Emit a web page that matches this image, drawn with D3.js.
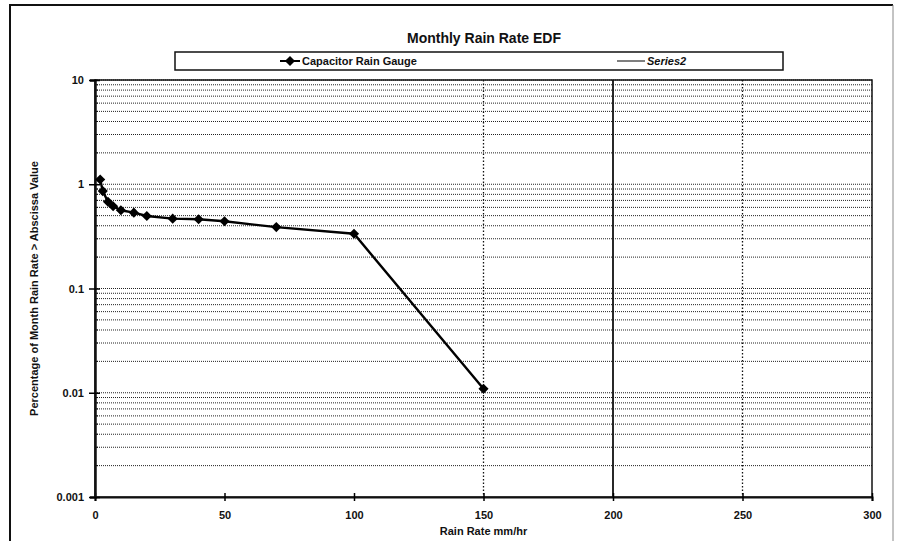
<!DOCTYPE html>
<html lang="en">
<head>
    <meta charset="UTF-8">
    <title>Monthly Rain Rate EDF</title>
    <script src="https://cdnjs.cloudflare.com/ajax/libs/d3/7.8.5/d3.min.js"></script>
    <style>
        body {
            margin: 0;
            background-color: white;
        }
        svg text {
            font-family: "Liberation Sans", Arial, sans-serif;
            font-weight: bold;
            fill: #111;
        }
    </style>
</head>
<body>
    <svg id="chart" width="897" height="541"></svg>

    <script>
        // Data
        const rainRate = [2, 3, 5, 7, 10, 15, 20, 30, 40, 50, 70, 100, 150];
        const percentExceeded = [1.11, 0.86, 0.68, 0.615, 0.563, 0.534, 0.496, 0.468, 0.461, 0.441, 0.388, 0.335, 0.0109];
        const xTicks = [0, 50, 100, 150, 200, 250, 300];
        const yTicks = [10, 1, 0.1, 0.01, 0.001];
        const yTickLabels = ["10", "1", "0.1", "0.01", "0.001"];
        const xGridDotted = [150, 250];
        const xGridSolid = [200];
        const seriesNames = ["Capacitor Rain Gauge", "Series2"];

        const width = 897;
        const height = 541;
        const margin = { top: 80, right: 25, bottom: 44, left: 95 };
        const plotWidth = width - margin.left - margin.right;
        const plotHeight = height - margin.top - margin.bottom;

        const svg = d3.select("#chart");

        // Outer chart frame (runs off the bottom of the scan)
        svg.append("path")
            .attr("d", `M10,${height + 2} L10,5 L893,5`)
            .attr("fill", "none")
            .attr("stroke", "#111")
            .attr("stroke-width", 2);
        svg.append("line")
            .attr("x1", 893).attr("x2", 893)
            .attr("y1", 5).attr("y2", height)
            .attr("stroke", "#888")
            .attr("stroke-width", 1);

        const g = svg.append("g")
            .attr("transform", `translate(${margin.left},${margin.top})`);

        const x = d3.scaleLinear().domain([0, 300]).range([0, plotWidth]);
        const y = d3.scaleLog().domain([0.001, 10]).range([plotHeight, 0]);

        // Minor + major horizontal gridlines, dotted
        const yGrid = [];
        for (let d = 0.001; d < 10; d *= 10) {
            for (let m = 1; m <= 9; m++) {
                const v = +(d * m).toPrecision(3);
                if (v > 0.001) yGrid.push(v);
            }
        }
        yGrid.push(10);

        g.selectAll("line.hgrid")
            .data(yGrid)
            .enter()
            .append("line")
            .attr("class", "hgrid")
            .attr("x1", 0)
            .attr("x2", plotWidth)
            .attr("y1", d => y(d))
            .attr("y2", d => y(d))
            .attr("stroke", "#222")
            .attr("stroke-width", 1)
            .attr("stroke-dasharray", "1,1");

        g.selectAll("line.vgrid-dot")
            .data(xGridDotted)
            .enter()
            .append("line")
            .attr("class", "vgrid-dot")
            .attr("x1", d => x(d))
            .attr("x2", d => x(d))
            .attr("y1", 0)
            .attr("y2", plotHeight)
            .attr("stroke", "#111")
            .attr("stroke-width", 1.3)
            .attr("stroke-dasharray", "1.5,2");

        g.selectAll("line.vgrid-solid")
            .data(xGridSolid)
            .enter()
            .append("line")
            .attr("class", "vgrid-solid")
            .attr("x1", d => x(d))
            .attr("x2", d => x(d))
            .attr("y1", 0)
            .attr("y2", plotHeight)
            .attr("stroke", "#111")
            .attr("stroke-width", 1.8);

        // Plot frame
        g.append("rect")
            .attr("width", plotWidth)
            .attr("height", plotHeight)
            .attr("fill", "none")
            .attr("stroke", "#111")
            .attr("stroke-width", 1.5);

        // Axes
        const xAxis = g.append("g")
            .attr("transform", `translate(0,${plotHeight})`)
            .call(d3.axisBottom(x).tickValues(xTicks).tickSize(4).tickPadding(10).tickFormat(d3.format("d")));
        xAxis.select(".domain").attr("stroke", "#111").attr("stroke-width", 2);
        xAxis.selectAll(".tick line").attr("y1", -4).attr("stroke-width", 1.5);
        xAxis.selectAll("text").style("font-size", "11px");

        const yAxis = g.append("g")
            .call(d3.axisLeft(y).tickValues(yTicks).tickSize(5).tickPadding(6)
                .tickFormat((d, i) => yTickLabels[i]));
        yAxis.select(".domain").attr("stroke", "#111").attr("stroke-width", 2.5);
        yAxis.selectAll(".tick line").attr("x1", 5).attr("x2", -6).attr("stroke-width", 1.5);
        yAxis.selectAll("text").style("font-size", "11px");

        // Minor ticks on y axis
        g.selectAll("line.yminor")
            .data(yGrid.filter(v => yTicks.indexOf(v) < 0))
            .enter()
            .append("line")
            .attr("class", "yminor")
            .attr("x1", 0)
            .attr("x2", 3)
            .attr("y1", d => y(d))
            .attr("y2", d => y(d))
            .attr("stroke", "#111");

        // Data line + diamond markers
        const points = rainRate.map((r, i) => ({ x: r, y: percentExceeded[i] }));
        const line = d3.line().x(d => x(d.x)).y(d => y(d.y));

        g.append("path")
            .datum(points)
            .attr("d", line)
            .attr("fill", "none")
            .attr("stroke", "#000")
            .attr("stroke-width", 2.4);

        const diamond = d3.symbol().type(d3.symbolDiamond2).size(65);
        g.selectAll("path.marker")
            .data(points)
            .enter()
            .append("path")
            .attr("class", "marker")
            .attr("transform", d => `translate(${x(d.x)},${y(d.y)})`)
            .attr("d", diamond)
            .attr("fill", "#000");

        // Title
        svg.append("text")
            .attr("x", 484)
            .attr("y", 43)
            .attr("text-anchor", "middle")
            .style("font-size", "14px")
            .text("Monthly Rain Rate EDF");

        // Legend
        const legend = svg.append("g");
        legend.append("rect")
            .attr("x", 175)
            .attr("y", 52)
            .attr("width", 608)
            .attr("height", 18)
            .attr("fill", "white")
            .attr("stroke", "#111")
            .attr("stroke-width", 1.5);

        legend.append("line")
            .attr("x1", 280).attr("x2", 300)
            .attr("y1", 61).attr("y2", 61)
            .attr("stroke", "#000").attr("stroke-width", 2);
        legend.append("path")
            .attr("transform", "translate(290,61)")
            .attr("d", diamond)
            .attr("fill", "#000");
        legend.append("text")
            .attr("x", 302)
            .attr("y", 65)
            .style("font-size", "11px")
            .text(seriesNames[0]);

        legend.append("line")
            .attr("x1", 617).attr("x2", 645)
            .attr("y1", 61).attr("y2", 61)
            .attr("stroke", "#000").attr("stroke-width", 1);
        legend.append("text")
            .attr("x", 647)
            .attr("y", 65)
            .style("font-size", "11px")
            .style("font-style", "italic")
            .text(seriesNames[1]);

        // Axis titles
        svg.append("text")
            .attr("x", margin.left + plotWidth / 2)
            .attr("y", 535)
            .attr("text-anchor", "middle")
            .style("font-size", "11px")
            .text("Rain Rate mm/hr");

        svg.append("text")
            .attr("transform", `translate(38,${margin.top + plotHeight / 2}) rotate(-90)`)
            .attr("text-anchor", "middle")
            .style("font-size", "11px")
            .text("Percentage of Month Rain Rate > Abscissa Value");
    </script>
</body>
</html>
